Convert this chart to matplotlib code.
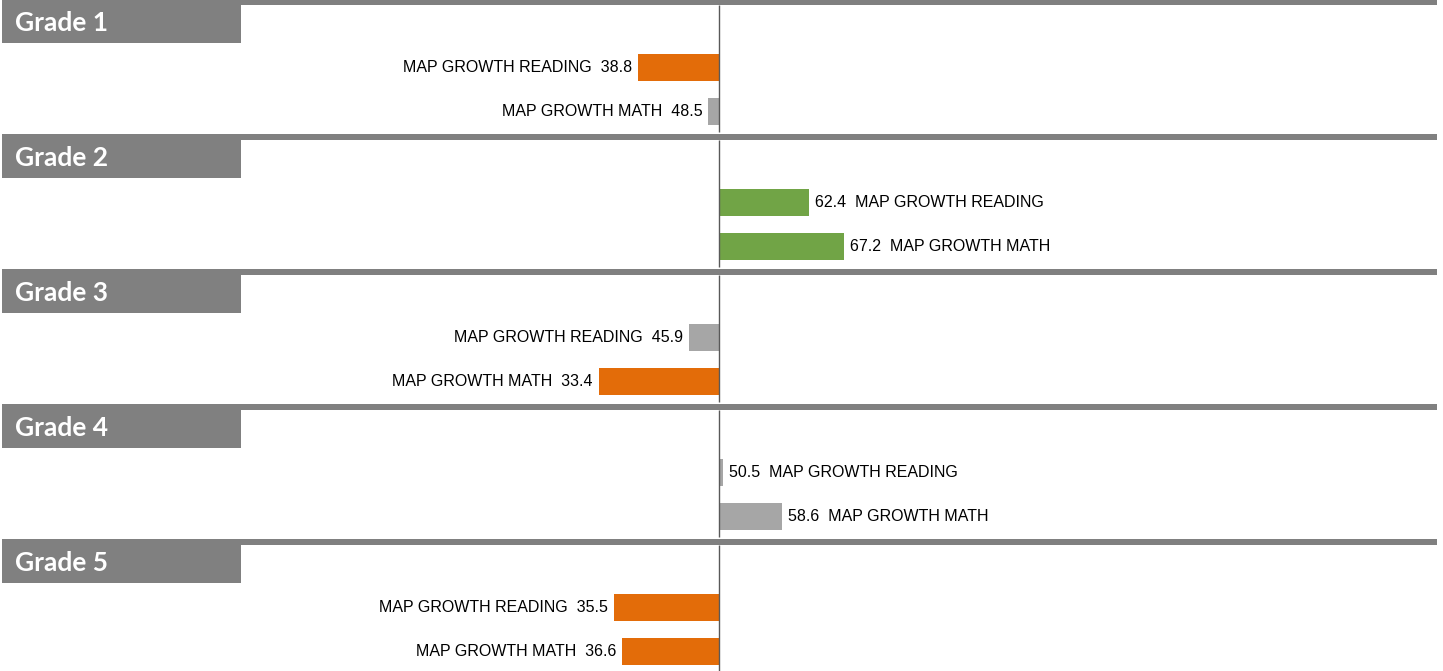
import matplotlib
matplotlib.use("Agg")
import matplotlib.pyplot as plt
import matplotlib.transforms as mtransforms

# --- data ---
grades = ["Grade 1", "Grade 2", "Grade 3", "Grade 4", "Grade 5"]
subjects = ["MAP GROWTH READING", "MAP GROWTH MATH"]
reading = [38.8, 62.4, 45.9, 50.5, 35.5]
math = [48.5, 67.2, 33.4, 58.6, 36.6]

# --- style / layout (pixels) ---
W, H = 1443, 671
CENTER = 50.0
ZERO_PX = 719.3
PX_PER_UNIT = 7.27
PITCH = 135
BAND_H = 6
BOX_H = 44
BAR_H = 27
BAR_OFFSETS = [68.4, 112.4]

C_BAND = "#808080"
C_ORANGE = "#E36C09"
C_GREEN = "#71A446"
C_GRAY = "#A6A6A6"
C_AXIS = "#595959"


def bar_color(v):
    if v < 40:
        return C_ORANGE
    if v > 60:
        return C_GREEN
    return C_GRAY


fig = plt.figure(figsize=(W / 100, H / 100), dpi=100)
ax = fig.add_axes([0, 0, 1, 1])
ax.set_axis_off()
ax.set_xlim(CENTER - ZERO_PX / PX_PER_UNIT, CENTER + (W - ZERO_PX) / PX_PER_UNIT)
ax.set_ylim(H, 0)

blend = mtransforms.blended_transform_factory(ax.transAxes, ax.transData)

for i, grade in enumerate(grades):
    top = PITCH * i - 1
    # header band + label box
    ax.axhspan(top, top + BAND_H, xmin=2 / W, xmax=1437 / W, color=C_BAND, lw=0, zorder=3)
    ax.axhspan(top, top + BOX_H, xmin=2 / W, xmax=241 / W, color=C_BAND, lw=0, zorder=3)
    ax.text(15 / W, top + BOX_H / 2 + 2, grade, transform=blend, color="white",
            fontsize=19, fontweight="bold", family=["Lato", "DejaVu Sans"],
            ha="left", va="center", zorder=4)
    # center line for this panel
    ax.vlines(CENTER, top + BAND_H, top + PITCH - 2, color=C_AXIS, lw=1, zorder=2)

    for j, (subj, vals) in enumerate(zip(subjects, [reading, math])):
        v = vals[i]
        y = top + BAR_OFFSETS[j]
        ax.barh(y, v - CENTER, left=CENTER, height=BAR_H, color=bar_color(v), lw=0, zorder=1)
        if v < CENTER:
            ax.annotate(f"{subj}  {v:.1f}", (v, y), xytext=(-6, 0), textcoords="offset pixels",
                        ha="right", va="center", fontsize=11.5, color="#000000",
                        family="Liberation Sans")
        else:
            ax.annotate(f"{v:.1f}  {subj}", (v, y), xytext=(6, 0), textcoords="offset pixels",
                        ha="left", va="center", fontsize=11.5, color="#000000",
                        family="Liberation Sans")

fig.savefig("out.png", dpi=100, facecolor="white")
